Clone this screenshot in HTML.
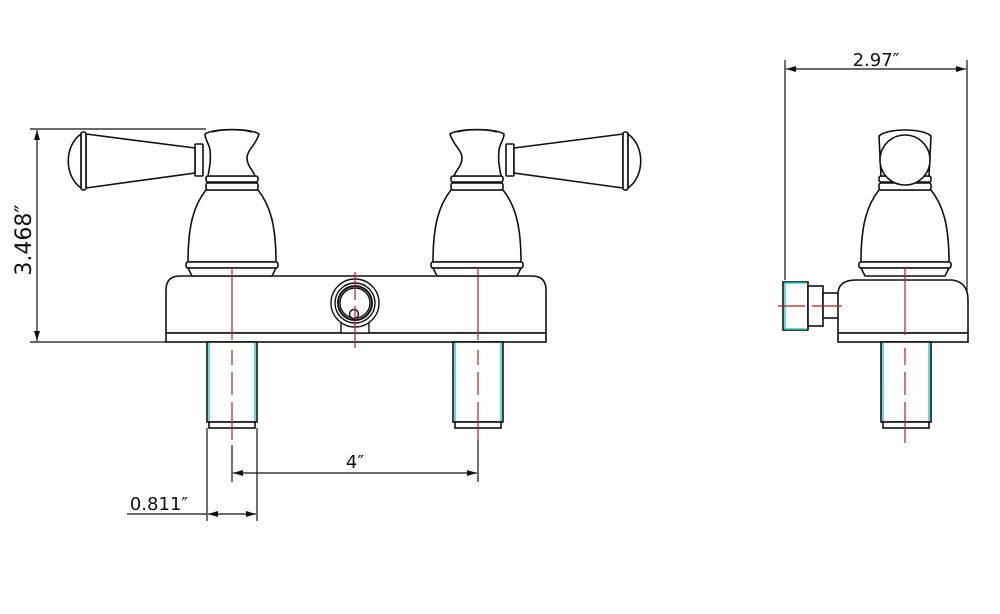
<!DOCTYPE html>
<html><head><style>
html,body{margin:0;padding:0;background:#fff;width:1000px;height:614px;overflow:hidden}
svg{display:block}
text{font-family:"DejaVu Sans","Liberation Sans",sans-serif;fill:#111}
</style></head><body>
<svg width="1000" height="614" viewBox="0 0 1000 614" xmlns="http://www.w3.org/2000/svg">
<defs>
<marker id="ar" viewBox="0 0 10 6" refX="10" refY="3" markerWidth="15" markerHeight="6" orient="auto-start-reverse" markerUnits="userSpaceOnUse"><path d="M0,0 L10,3 L0,6 Z" fill="#111"/></marker>
<g id="body" fill="#fff" stroke="#111" stroke-width="1.6">
  <path d="M-26,190 C-38,205 -44,225 -44,262 L44,262 C44,225 38,205 26,190 Z"/>
  <rect x="-46" y="262" width="92" height="6" rx="2"/>
  <path d="M-44,268 L44,268 L40,276 L-40,276 Z"/>
  <rect x="-26" y="176" width="52" height="6" rx="2"/>
  <rect x="-26" y="183" width="52" height="7" rx="2"/>
</g>
<g id="cap" fill="#fff" stroke="#111" stroke-width="1.6">
  <path d="M-27,134 C-18,128 18,128 27,134 C24,145 15,150 15,158 C15,166 21,170 23,176 L-24,176 C-22,165 -21,160 -22,150 C-23,143 -27,140 -27,134 Z"/>
  <path d="M-20,132 C-10,129 10,129 20,132" />
</g>
<g id="lever" fill="#fff" stroke="#111" stroke-width="1.6">
  <rect x="-37" y="144" width="8" height="32" rx="1"/>
  <path d="M-37,148 L-146,134 L-146,188 L-37,173 Z"/>
  <rect x="-151" y="132" width="5" height="58" rx="2"/>
  <path d="M-151,134 C-168,146 -168,176 -151,188 Z"/>
</g>
<g id="shank" fill="#fff" stroke="#111" stroke-width="1.6">
  <rect x="-25" y="342" width="50" height="80"/>
  <line x1="-23" y1="343" x2="-23" y2="421" stroke="#3cc" stroke-width="1.5"/>
  <line x1="23" y1="343" x2="23" y2="421" stroke="#3cc" stroke-width="1.5"/>
  <rect x="-23" y="422" width="46" height="6"/>
</g>
</defs>

<path d="M166,333 L166,290 Q166,276 180,276 L532,276 Q546,276 546,290 L546,333 Z" fill="#fff" stroke="#111" stroke-width="1.6"/>
<rect x="166" y="333" width="380" height="9" fill="#fff" stroke="#111" stroke-width="1.6"/>
<use href="#shank" x="232"/>
<use href="#shank" x="478"/>
<g transform="translate(232,0)"><use href="#lever"/><use href="#body"/><use href="#cap"/></g>
<g transform="translate(477,0) scale(-1,1)"><use href="#lever"/><use href="#body"/><use href="#cap"/></g>
<g fill="none" stroke="#111" stroke-width="1.4">
<rect x="341" y="318" width="28" height="15" fill="#fff"/>
<circle cx="355" cy="303" r="24" fill="#fff"/>
<circle cx="355" cy="303" r="20"/>
<circle cx="355" cy="303" r="17" stroke-width="2"/>
<circle cx="355" cy="303" r="15"/>
<circle cx="354" cy="314" r="4.5" fill="#fff"/>
</g>
<g stroke="#a22" stroke-width="1.2" fill="none">
<path d="M232,268 V340 M232,350 V365 M232,372 V395 M232,402 V440"/>
<path d="M478,268 V340 M478,350 V365 M478,372 V395 M478,402 V440"/>
<path d="M355,272 V300 M355,306 V348"/>
</g>

<g stroke="#111" stroke-width="1.2" fill="none">
<line x1="30" y1="129" x2="206" y2="129"/>
<line x1="30" y1="342" x2="166" y2="342"/>
<line x1="37" y1="130" x2="37" y2="341" marker-start="url(#ar)" marker-end="url(#ar)"/>
<line x1="232" y1="445" x2="232" y2="482"/>
<line x1="478" y1="440" x2="478" y2="482"/>
<line x1="233" y1="473" x2="477" y2="473" marker-start="url(#ar)" marker-end="url(#ar)"/>
<line x1="207" y1="428" x2="207" y2="521"/>
<line x1="257" y1="428" x2="257" y2="521"/>
<line x1="127" y1="514" x2="207" y2="514"/>
<line x1="208" y1="514" x2="256" y2="514" marker-start="url(#ar)" marker-end="url(#ar)"/>
</g>
<text x="25" y="240" font-size="22" text-anchor="middle" transform="rotate(-90 25 240)" dominant-baseline="middle">3.468″</text>
<text x="355" y="468" font-size="18" text-anchor="middle">4″</text>
<text x="159" y="510" font-size="18" text-anchor="middle">0.811″</text>

<g fill="#fff" stroke="#111" stroke-width="1.6">
<rect x="783" y="282" width="25" height="48"/>
<rect x="808" y="286" width="15" height="40"/>
<rect x="823" y="293" width="16" height="25"/>
<path d="M838,333 L838,294 Q838,280 856,280 L952,280 Q968,282 968,300 L968,333 Z"/>
<rect x="838" y="333" width="130" height="9"/>
</g>
<line x1="785" y1="283" x2="785" y2="329" stroke="#3cc" stroke-width="1.5"/>
<line x1="785" y1="283" x2="806" y2="283" stroke="#3cc" stroke-width="1.5"/>
<line x1="785" y1="329" x2="806" y2="329" stroke="#3cc" stroke-width="1.5"/>
<use href="#shank" x="906"/>
<g transform="translate(905,0)">
  <use href="#body"/>
  <path d="M-26,136 C-18,128 18,128 26,136 L24,176 L-24,176 Z" fill="#fff" stroke="#111" stroke-width="1.6"/>
  <circle cx="0" cy="160" r="25" fill="#fff" stroke="#111" stroke-width="1.6"/>
</g>
<g stroke="#a22" stroke-width="1.2" fill="none">
<path d="M905,268 V335 M905,348 V365 M905,372 V395 M905,402 V443"/>
<path d="M778,306 H805 M812,306 H842"/>
</g>
<g stroke="#111" stroke-width="1.2" fill="none">
<line x1="785" y1="60" x2="785" y2="280"/>
<line x1="967" y1="60" x2="967" y2="292"/>
<line x1="786" y1="69" x2="966" y2="69" marker-start="url(#ar)" marker-end="url(#ar)"/>
</g>
<text x="876" y="66" font-size="18" text-anchor="middle">2.97″</text>
</svg>
</body></html>
